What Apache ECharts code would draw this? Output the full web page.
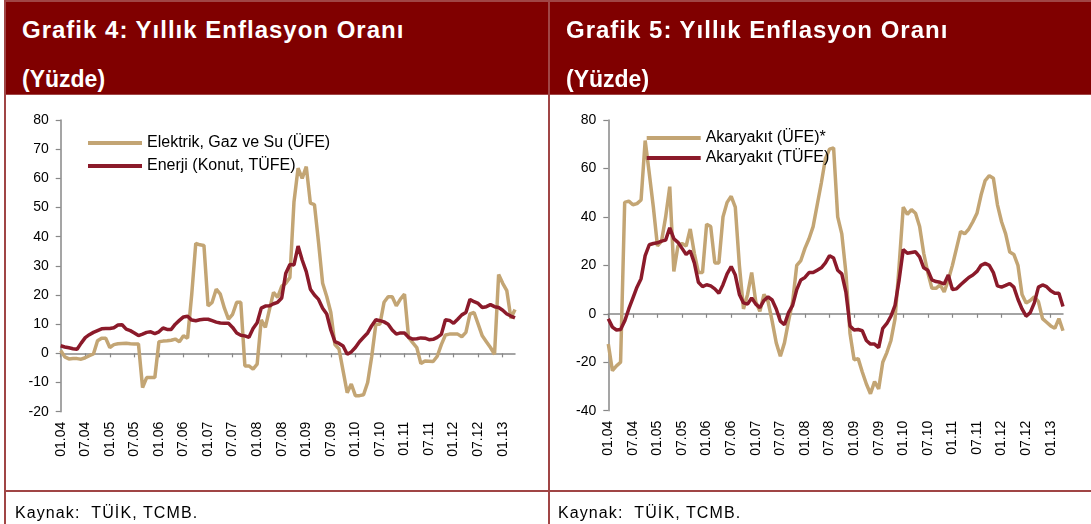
<!DOCTYPE html>
<html>
<head>
<meta charset="utf-8">
<script src="https://cdn.jsdelivr.net/npm/echarts@6/dist/echarts.min.js"></script>
<style>
  html, body { margin:0; padding:0; background:#fff; }
  #page { position:relative; width:1091px; height:524px; overflow:hidden; background:#fff; font-family:"Liberation Sans", Arial, sans-serif; }
  #chart { position:absolute; left:0; top:0; width:1091px; height:524px; }
  .blk { position:absolute; }
  .line { background:#a04545; }
  .hdr { background:#800000; }
  .ttl { position:absolute; color:#fff; font-weight:bold; font-size:23px; line-height:23px; white-space:nowrap; }
  .big { font-size:24px; line-height:24px; letter-spacing:1px; }
  .src { position:absolute; color:#000; font-size:16px; line-height:16px; letter-spacing:1.1px; white-space:nowrap; }
</style>
</head>
<body>
<div id="page">
  <div id="chart"></div>
  <div class="blk hdr" style="left:6px;top:2px;width:542px;height:92px;"></div>
  <div class="blk hdr" style="left:550px;top:2px;width:541px;height:92px;"></div>
  <div class="blk line" style="left:4px;top:0;width:1087px;height:2px;"></div>
  <div class="blk line" style="left:4px;top:93.5px;width:1087px;height:1.5px;"></div>
  <div class="blk line" style="left:4px;top:0;width:2px;height:524px;"></div>
  <div class="blk line" style="left:548px;top:0;width:2px;height:524px;"></div>
  <div class="blk line" style="left:4px;top:490px;width:1087px;height:2px;"></div>
  <div class="ttl big" style="left:22px;top:17.5px;">Grafik 4: Yıllık Enflasyon Oranı</div>
  <div class="ttl" style="left:22px;top:67.5px;">(Yüzde)</div>
  <div class="ttl big" style="left:566px;top:17.5px;">Grafik 5: Yıllık Enflasyon Oranı</div>
  <div class="ttl" style="left:566px;top:67.5px;">(Yüzde)</div>
  <div class="src" style="left:15px;top:505px;">Kaynak:&nbsp; TÜİK, TCMB.</div>
  <div class="src" style="left:558px;top:505px;">Kaynak:&nbsp; TÜİK, TCMB.</div>
</div>
<script>
// Monthly categories 01.04 .. 04.13
const categories = [
  '01.04','02.04','03.04','04.04','05.04','06.04','07.04','08.04','09.04','10.04','11.04','12.04',
  '01.05','02.05','03.05','04.05','05.05','06.05','07.05','08.05','09.05','10.05','11.05','12.05',
  '01.06','02.06','03.06','04.06','05.06','06.06','07.06','08.06','09.06','10.06','11.06','12.06',
  '01.07','02.07','03.07','04.07','05.07','06.07','07.07','08.07','09.07','10.07','11.07','12.07',
  '01.08','02.08','03.08','04.08','05.08','06.08','07.08','08.08','09.08','10.08','11.08','12.08',
  '01.09','02.09','03.09','04.09','05.09','06.09','07.09','08.09','09.09','10.09','11.09','12.09',
  '01.10','02.10','03.10','04.10','05.10','06.10','07.10','08.10','09.10','10.10','11.10','12.10',
  '01.11','02.11','03.11','04.11','05.11','06.11','07.11','08.11','09.11','10.11','11.11','12.11',
  '01.12','02.12','03.12','04.12','05.12','06.12','07.12','08.12','09.12','10.12','11.12','12.12',
  '01.13','02.13','03.13','04.13'
];

// Grafik 4
const elektrikGazSu = [
  1.0,-1.2,-1.9,-1.8,-1.8,-2.0,-1.5,-0.8,-0.2,4.3,5.2,5.2,
  2.0,3.0,3.3,3.4,3.5,3.3,3.2,3.2,-11.7,-8.3,-8.3,-8.3,
  4.0,4.2,4.3,4.5,4.9,4.0,6.0,5.2,20.0,37.7,37.2,37.0,
  16.3,17.5,22.0,20.3,15.5,11.7,13.4,17.5,17.5,-4.3,-4.3,-5.4,
  -3.7,11.5,8.9,15.0,20.9,19.2,23.0,24.0,26.0,52.0,63.5,60.0,
  64.0,51.5,51.0,38.0,24.0,19.5,14.0,3.0,1.5,-6.0,-13.5,-10.5,
  -14.5,-14.5,-14.2,-10.0,-1.0,10.0,10.0,17.5,19.4,19.4,16.3,18.6,
  20.3,5.5,3.7,2.0,-3.5,-2.6,-2.7,-2.8,-1.0,3.0,6.3,6.6,
  6.6,6.6,5.7,7.2,13.5,14.0,10.0,6.0,4.0,2.0,-0.3,27.0,
  24.0,21.5,12.0,15.0
];
const enerjiKonut = [
  2.6,2.2,1.9,1.6,1.4,3.5,5.4,6.4,7.2,7.8,8.4,8.5,
  8.5,8.8,9.7,9.8,8.3,7.8,7.0,6.1,6.6,7.2,7.4,6.8,
  7.4,8.7,8.2,8.2,10.0,11.3,12.5,12.7,11.4,11.2,11.5,11.7,
  11.7,11.2,10.7,10.4,10.3,10.3,8.9,7.0,6.2,6.0,5.5,8.5,
  10.5,15.5,16.2,16.3,17.0,17.5,19.0,27.5,30.5,30.3,36.8,32.0,
  28.0,22.0,20.0,18.5,15.5,13.5,8.0,4.0,3.4,2.5,-0.3,0.5,
  2.0,4.0,5.5,7.0,9.5,11.5,11.2,10.8,10.0,8.0,6.6,7.0,
  7.0,5.5,4.9,5.0,5.3,5.2,4.7,4.8,5.5,6.5,11.5,11.3,
  10.3,11.7,13.2,14.0,18.5,17.7,17.1,15.7,16.0,16.7,16.0,15.7,
  14.8,13.5,12.8,12.2
];

// Grafik 5
const akaryakitUfe = [
  -12.5,-23.5,-21.5,-20.0,46.0,46.5,45.0,45.5,47.0,71.5,58.0,44.0,
  28.0,30.0,40.0,52.5,17.5,28.0,29.0,28.0,35.0,25.0,17.0,17.0,
  37.0,36.0,21.0,21.0,40.0,46.0,48.5,44.0,20.0,2.0,8.0,17.0,
  5.0,1.0,8.0,5.0,-3.0,-12.0,-17.5,-12.0,-3.0,5.0,20.0,22.0,
  27.0,31.0,36.0,45.0,54.0,64.0,68.0,68.5,40.0,33.0,17.0,-8.0,
  -19.0,-18.5,-24.0,-29.0,-33.0,-28.0,-31.0,-20.0,-16.0,-11.0,-2.0,20.0,
  44.0,41.0,43.0,41.5,36.0,25.0,17.0,10.5,10.5,12.0,9.0,14.0,
  20.0,27.0,34.0,33.0,35.0,38.0,41.5,49.0,55.0,57.0,56.0,45.0,
  38.0,33.0,25.5,24.5,20.0,8.0,4.5,5.5,7.0,5.0,-2.0,-3.5,
  -5.0,-6.0,-2.0,-7.0
];
const akaryakitTufe = [
  -2.0,-5.5,-6.7,-6.5,-3.0,2.0,6.5,11.0,14.5,24.0,28.5,29.0,
  29.3,30.0,30.4,35.5,31.0,29.5,27.0,24.5,26.0,21.0,13.0,11.2,
  12.0,11.5,10.3,8.5,12.0,16.5,19.5,16.0,8.0,4.5,4.0,6.5,
  4.0,2.5,5.5,7.0,5.7,2.0,-3.0,-4.5,0.5,3.5,10.0,14.0,
  15.0,17.0,17.0,18.0,19.0,21.0,24.0,23.0,18.0,16.5,9.0,-5.0,
  -6.7,-6.5,-7.0,-11.0,-12.5,-12.5,-14.0,-6.0,-4.0,-1.0,3.5,14.0,
  26.5,25.0,25.3,25.6,23.5,19.0,18.0,14.0,13.3,13.0,12.3,16.0,
  10.0,10.3,12.0,13.5,15.0,16.0,17.5,20.0,20.8,20.0,17.0,11.5,
  11.0,11.7,12.5,11.0,6.0,2.0,-1.0,0.5,4.5,11.0,11.9,11.2,
  9.5,8.5,8.5,3.0
];

const seriesNames = ['Elektrik, Gaz ve Su (ÜFE)', 'Enerji (Konut, TÜFE)', 'Akaryakıt (ÜFE)*', 'Akaryakıt (TÜFE)'];
const GOLD = '#c3a574';
const RED = '#8b1a2a';
const AXIS = '#878787';
const FONT = '"Liberation Sans", Arial, sans-serif';

function zeroAxis(gi) {
  return {
    gridIndex: gi, type: 'category', data: categories, boundaryGap: false,
    axisLine: { show: true, onZero: true, lineStyle: { color: AXIS, width: 1.5 } },
    axisTick: { show: true, interval: 5, length: 4, lineStyle: { color: AXIS, width: 1.2 } },
    axisLabel: { show: false }, splitLine: { show: false }
  };
}
function labelAxis(gi) {
  return {
    gridIndex: gi, type: 'category', data: categories, boundaryGap: false, position: 'bottom',
    axisLine: { show: false, onZero: false }, axisTick: { show: false },
    axisLabel: { show: true, interval: 5, rotate: 90, margin: 10, fontSize: 14, color: '#000', fontFamily: FONT },
    splitLine: { show: false }
  };
}
function yAx(gi, min, max, step) {
  return {
    gridIndex: gi, type: 'value', min: min, max: max, interval: step,
    axisLine: { show: true, onZero: false, lineStyle: { color: AXIS, width: 1.5 } },
    axisTick: { show: true, length: 5, lineStyle: { color: AXIS, width: 1.2 } },
    axisLabel: { margin: 12, fontSize: 14, color: '#000', fontFamily: FONT },
    splitLine: { show: false }
  };
}
function lineSeries(name, data, color, xi, yi) {
  return {
    name: name, type: 'line', data: data, xAxisIndex: xi, yAxisIndex: yi,
    showSymbol: false, symbol: 'none', smooth: false,
    lineStyle: { color: color, width: 3.5 }, itemStyle: { color: color },
    emphasis: { disabled: true }, animation: false
  };
}

const chart = echarts.init(document.getElementById('chart'), null, { renderer: 'canvas' });
chart.setOption({
  animation: false,
  backgroundColor: 'transparent',
  textStyle: { fontFamily: FONT },
  grid: [
    { left: 60.7, top: 120, width: 454.3, height: 291.7 },
    { left: 608.3, top: 120, width: 454.7, height: 290.7 }
  ],
  xAxis: [zeroAxis(0), labelAxis(0), zeroAxis(1), labelAxis(1)],
  yAxis: [yAx(0, -20, 80, 10), yAx(1, -40, 80, 20)],
  legend: [
    { data: [seriesNames[0], seriesNames[1]], left: 83, top: 130, orient: 'vertical', icon: 'rect',
      itemWidth: 54, itemHeight: 4, itemGap: 7, selectedMode: false,
      textStyle: { fontSize: 16, color: '#000', fontFamily: FONT } },
    { data: [seriesNames[2], seriesNames[3]], left: 641.7, top: 125, orient: 'vertical', icon: 'rect',
      itemWidth: 54, itemHeight: 4, itemGap: 4, selectedMode: false,
      textStyle: { fontSize: 16, color: '#000', fontFamily: FONT } }
  ],
  series: [
    lineSeries(seriesNames[0], elektrikGazSu, GOLD, 0, 0),
    lineSeries(seriesNames[1], enerjiKonut, RED, 0, 0),
    lineSeries(seriesNames[2], akaryakitUfe, GOLD, 2, 1),
    lineSeries(seriesNames[3], akaryakitTufe, RED, 2, 1)
  ]
});
</script>
</body>
</html>
